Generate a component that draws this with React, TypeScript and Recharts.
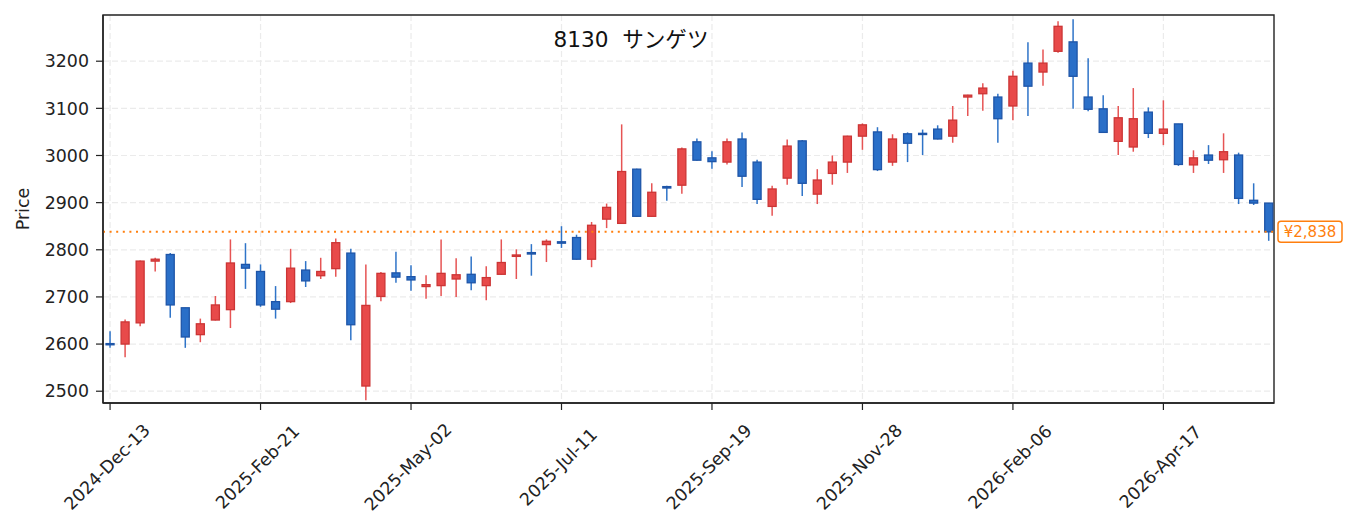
import { ComposedChart, Bar, XAxis, YAxis, CartesianGrid, ReferenceLine, ReferenceArea } from 'recharts';

// weekly candles, first week 2024-12-13
const opens = [
  2601, 2600, 2645, 2776, 2790, 2677, 2620, 2651, 2673, 2769,
  2754, 2690, 2690, 2757, 2745, 2760, 2793, 2511, 2701, 2751,
  2743, 2722, 2724, 2738, 2748, 2724, 2748, 2786, 2794, 2811,
  2817, 2826, 2780, 2865, 2856, 2971, 2871, 2934, 2937, 3029,
  2995, 2986, 3035, 2986, 2892, 2952, 3031, 2918, 2962, 2986,
  3041, 3050, 2986, 3046, 3047, 3056, 3041, 3124, 3131, 3124,
  3105, 3196, 3177, 3221, 3241, 3124, 3099, 3030, 3018, 3092,
  3047, 3067, 2980, 3001, 2991, 3001, 2905, 2899,
];
const closes = [
  2599, 2647, 2776, 2780, 2683, 2615, 2643, 2683, 2772, 2761,
  2683, 2674, 2761, 2734, 2754, 2815, 2641, 2682, 2750, 2742,
  2736, 2726, 2750, 2747, 2730, 2741, 2773, 2789, 2791, 2818,
  2814, 2780, 2852, 2890, 2966, 2871, 2922, 2931, 3014, 2990,
  2987, 3029, 2956, 2907, 2929, 3020, 2941, 2948, 2986, 3041,
  3065, 2970, 3035, 3026, 3045, 3035, 3075, 3128, 3143, 3078,
  3168, 3147, 3196, 3274, 3168, 3098, 3049, 3080, 3078, 3047,
  3056, 2981, 2995, 2990, 3008, 2909, 2899, 2838,
];
const highs = [
  2627, 2652, 2777, 2783, 2793, 2677, 2654, 2702, 2822, 2814,
  2769, 2723, 2802, 2776, 2783, 2824, 2802, 2769, 2753, 2796,
  2767, 2746, 2822, 2782, 2786, 2765, 2822, 2801, 2812, 2822,
  2850, 2832, 2859, 2898, 3066, 2972, 2941, 2936, 3017, 3036,
  3009, 3036, 3049, 2991, 2936, 3034, 3033, 2971, 3000, 3042,
  3068, 3060, 3045, 3049, 3055, 3064, 3105, 3129, 3153, 3131,
  3180, 3240, 3225, 3285, 3289, 3206, 3128, 3105, 3143, 3102,
  3117, 3067, 3011, 3022, 3047, 3006, 2941, 2899,
];
const lows = [
  2592, 2572, 2638, 2754, 2656, 2592, 2604, 2650, 2634, 2717,
  2679, 2654, 2687, 2721, 2738, 2743, 2608, 2481, 2691, 2730,
  2713, 2696, 2702, 2700, 2714, 2693, 2747, 2738, 2745, 2774,
  2804, 2779, 2763, 2846, 2855, 2870, 2870, 2904, 2919, 2989,
  2972, 2981, 2933, 2897, 2872, 2938, 2914, 2897, 2938, 2963,
  3012, 2967, 2978, 2986, 3001, 3034, 3027, 3084, 3095, 3027,
  3075, 3084, 3148, 3218, 3099, 3094, 3048, 3001, 3008, 3037,
  3022, 2978, 2963, 2982, 2963, 2897, 2895, 2819,
];

const tickWeeks = [0, 10, 20, 30, 40, 50, 60, 70];
const tickLabels = ['2024-Dec-13', '2025-Feb-21', '2025-May-02', '2025-Jul-11', '2025-Sep-19', '2025-Nov-28', '2026-Feb-06', '2026-Apr-17'];
const priceTicks = [2500, 2600, 2700, 2800, 2900, 3000, 3100, 3200];
const lastPrice = 2838;

const FONT = '"DejaVu Sans", "Noto Sans CJK JP", sans-serif';
const X_DOMAIN: [number, number] = [-0.47, 77.35];
const Y_DOMAIN: [number, number] = [2475, 3298];

const UP = { fill: '#e84a4a', edge: '#cc3535', wick: '#e65454' };
const DOWN = { fill: '#2a6fc8', edge: '#1e55a8', wick: '#2f74c8' };

const data = opens.map((o, i) => ({
  i,
  open: o,
  close: closes[i],
  high: highs[i],
  low: lows[i],
}));

function Candle(props: any) {
  const { x = 0, y = 0, width = 0, height = 0, payload } = props;
  const { open, close, high, low } = payload;
  const ppu = height / (high - low || 1);
  const cx = x + width / 2;
  const c = close >= open ? UP : DOWN;
  const top = y + (high - Math.max(open, close)) * ppu;
  const bot = y + (high - Math.min(open, close)) * ppu;
  const bh = Math.max(bot - top, 1.2);
  return (
    <g>
      <line x1={cx} x2={cx} y1={y} y2={y + height} stroke={c.wick} strokeWidth={1.5} />
      <rect x={cx - 4} y={top} width={8} height={bh} fill={c.fill} stroke={c.edge} strokeWidth={1.3} />
    </g>
  );
}

function DateTick(props: any) {
  const { x, y, payload } = props;
  const idx = tickWeeks.indexOf(payload.value);
  return (
    <text
      transform={`translate(${x - 3},${y + 55}) rotate(-45)`}
      textAnchor="middle"
      dominantBaseline="central"
      fontSize={17.4}
      fontFamily={FONT}
      fill="#222"
    >
      {tickLabels[idx]}
    </text>
  );
}

function PriceTag(props: any) {
  const { viewBox } = props;
  const right = viewBox.x + viewBox.width;
  const yy = viewBox.y;
  return (
    <g>
      <rect x={right + 4} y={yy - 10.5} width={64} height={21} rx={3} fill="#fff" stroke="#ff7f0e" strokeWidth={1.5} />
      <text x={right + 36} y={yy} textAnchor="middle" dominantBaseline="central" fontSize={15} fontFamily={FONT} fill="#ff7f0e">
        ¥{lastPrice.toLocaleString('en-US')}
      </text>
    </g>
  );
}

export default function App() {
  return (
    <div style={{ position: 'absolute', left: 0, top: 0, width: 1353, height: 531, background: '#fff', fontFamily: FONT }}>
      <ComposedChart width={1353} height={531} data={data} margin={{ top: 15, right: 79, bottom: 0, left: 0 }}>
        <CartesianGrid stroke="#ebebeb" strokeDasharray="6 3" strokeWidth={1.2} verticalValues={tickWeeks} horizontalValues={priceTicks} />
        <XAxis
          dataKey="i"
          type="number"
          domain={X_DOMAIN}
          allowDataOverflow
          ticks={tickWeeks}
          interval={0}
          height={128}
          tickSize={7}
          tick={<DateTick />}
          axisLine={{ stroke: '#222', strokeWidth: 1.4 }}
          tickLine={{ stroke: '#222', strokeWidth: 1.2 }}
        />
        <YAxis
          type="number"
          domain={Y_DOMAIN}
          allowDataOverflow
          ticks={priceTicks}
          width={103}
          tickSize={7}
          tickMargin={7}
          tick={{ fontSize: 17.4, fill: '#222', fontFamily: FONT }}
          axisLine={{ stroke: '#222', strokeWidth: 1.4 }}
          tickLine={{ stroke: '#222', strokeWidth: 1.2 }}
          label={{ value: 'Price', angle: -90, position: 'insideLeft', offset: 23, style: { textAnchor: 'middle', fontSize: 17.4, fill: '#222', fontFamily: FONT } }}
        />
        <ReferenceArea x1={X_DOMAIN[0]} x2={X_DOMAIN[1]} y1={Y_DOMAIN[0]} y2={Y_DOMAIN[1]} fill="none" stroke="#222" strokeWidth={1.4} fillOpacity={0} />
        <ReferenceLine y={lastPrice} stroke="#ff7f0e" strokeWidth={2} strokeDasharray="2 4.6" label={<PriceTag />} />
        <Bar dataKey={(d: any) => [d.low, d.high]} barSize={9} shape={<Candle />} isAnimationActive={false} />
      </ComposedChart>
      <div style={{ position: 'absolute', left: 481, top: 25, width: 300, textAlign: 'center', fontSize: 21.6, color: '#111', whiteSpace: 'pre', lineHeight: '30px' }}>
        8130  サンゲツ
      </div>
    </div>
  );
}
